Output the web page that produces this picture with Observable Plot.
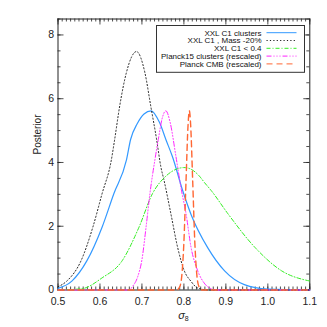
<!DOCTYPE html>
<html><head><meta charset="utf-8">
<script src="https://cdn.jsdelivr.net/npm/d3@7"></script>
<script src="https://cdn.jsdelivr.net/npm/@observablehq/plot@0.6"></script>
<style>
html,body{margin:0;padding:0;background:#fff;}
#chart{width:327px;height:327px;position:relative;}
svg{font-family:"Liberation Sans",Arial,Helvetica,sans-serif;}
</style></head><body><div id="chart"></div>
<script>
// ---- data ----
const seriesNames = ["XXL C1 clusters", "XXL C1 , Mass -20%", "XXL C1 < 0.4", "Planck15 clusters (rescaled)", "Planck CMB (rescaled)"];
const seriesColors = ["#3399ff", "#222222", "#33ee22", "#ff22ff", "#ff6633"];
const seriesDash = ["none", "1.2,2.2", "4,2,1,2", "5,2,1,2,1,2,1,2", "6,4"];

const blueX = [0.50, 0.533, 0.569, 0.605, 0.633, 0.663, 0.673, 0.689, 0.705, 0.722, 0.742, 0.757, 0.773, 0.797, 0.817, 0.857, 0.897, 0.944, 1.0, 1.1];
const blueY = [0.05, 0.28, 0.92, 1.97, 3.02, 4.07, 4.72, 5.22, 5.52, 5.62, 5.25, 4.72, 4.17, 3.12, 2.37, 1.32, 0.6, 0.17, 0.03, 0];

const blackX = [0.50, 0.521, 0.555, 0.583, 0.605, 0.627, 0.635, 0.647, 0.663, 0.687, 0.707, 0.721, 0.735, 0.745, 0.753, 0.769, 0.785, 0.801, 0.817, 0.833, 0.86, 1.1];
const blackY = [0.1, 0.28, 0.92, 1.97, 3.02, 4.07, 4.72, 5.77, 6.82, 7.48, 6.82, 5.77, 4.72, 3.87, 3.42, 2.39, 1.34, 0.6, 0.27, 0.06, 0, 0];

const greenX = [0.50, 0.557, 0.605, 0.653, 0.693, 0.725, 0.757, 0.789, 0.80, 0.815, 0.837, 0.849, 0.865, 0.905, 0.969, 1.033, 1.1];
const greenY = [0, 0.04, 0.38, 0.92, 1.97, 3.02, 3.57, 3.82, 3.84, 3.8, 3.57, 3.37, 3.12, 2.39, 1.34, 0.6, 0.28];

const magentaX = [0.50, 0.670, 0.677, 0.69, 0.70, 0.71, 0.719, 0.731, 0.739, 0.748, 0.757, 0.767, 0.781, 0.794, 0.805, 0.817, 0.833, 0.85, 0.865, 0.88, 1.1];
const magentaY = [0, 0, 0.1, 0.42, 0.95, 1.99, 3.02, 4.09, 4.72, 5.37, 5.62, 5.27, 4.19, 3.14, 2.4, 1.34, 0.6, 0.19, 0.04, 0, 0];

const orangeX = [0.50, 0.783, 0.79, 0.795, 0.80, 0.805, 0.81, 0.813, 0.816, 0.821, 0.826, 0.831, 0.836, 0.843, 1.1];
const orangeY = [0, 0, 0.1, 0.45, 1.5, 3.4, 5.2, 5.62, 5.2, 3.4, 1.5, 0.45, 0.1, 0, 0];

const seriesX = [blueX, blackX, greenX, magentaX, orangeX];
const seriesY = [blueY, blackY, greenY, magentaY, orangeY];

const xMajorTicks = [0.5, 0.6, 0.7, 0.8, 0.9, 1.0, 1.1];
const yMajorTicks = [0, 2, 4, 6, 8];

// ---- layout ----
const W = 327, H = 327;
const mL = 57.5, mR = 17.7, mT = 18.5, mB = 37.5;
const innerW = W - mL - mR, innerH = H - mT - mB;
const xMinorTicks = d3.range(50, 111).map(d => d / 100);
const yMinorTicks = d3.range(0, 18).map(d => d / 2);

const lineMarks = seriesNames.map((name, i) => {
  const rows = seriesX[i].map((x, j) => ({x, y: seriesY[i][j]}));
  return Plot.line(rows, {x: "x", y: "y", stroke: seriesColors[i], strokeWidth: i === 0 ? 1.2 : (i === 4 ? 1.4 : 1), strokeDasharray: seriesDash[i] === "none" ? null : seriesDash[i], curve: "monotone-x"});
});

const tk = "#222";
const plot = Plot.plot({
  width: W, height: H,
  marginLeft: mL, marginRight: mR, marginTop: mT, marginBottom: mB,
  style: {fontFamily: '"Liberation Sans", Arial, Helvetica, sans-serif', background: "white"},
  x: {domain: [0.5, 1.1]},
  y: {domain: [0, 8.5]},
  marks: [
    Plot.ruleX(xMinorTicks, {x: d => d, insetTop: innerH - 3, stroke: tk, strokeWidth: 0.8}),
    Plot.ruleX(xMinorTicks, {x: d => d, insetBottom: innerH - 3, stroke: tk, strokeWidth: 0.8}),
    Plot.ruleX(xMajorTicks, {x: d => d, insetTop: innerH - 6, stroke: tk, strokeWidth: 0.8}),
    Plot.ruleX(xMajorTicks, {x: d => d, insetBottom: innerH - 6, stroke: tk, strokeWidth: 0.8}),
    Plot.ruleY(yMinorTicks, {y: d => d, insetRight: innerW - 3, stroke: tk, strokeWidth: 0.8}),
    Plot.ruleY(yMinorTicks, {y: d => d, insetLeft: innerW - 3, stroke: tk, strokeWidth: 0.8}),
    Plot.ruleY(yMajorTicks, {y: d => d, insetRight: innerW - 6, stroke: tk, strokeWidth: 0.8}),
    Plot.ruleY(yMajorTicks, {y: d => d, insetLeft: innerW - 6, stroke: tk, strokeWidth: 0.8}),
    Plot.frame({stroke: tk, strokeWidth: 1}),
    Plot.axisX(xMajorTicks, {tickSize: 0, tickPadding: 8, tickFormat: d3.format(".1f"), label: null, fontSize: 10.5, fill: "#222"}),
    Plot.axisY(yMajorTicks, {tickSize: 0, tickPadding: 4, tickFormat: d => String(d), label: null, fontSize: 10.5, fill: "#222"}),
    Plot.text(["Posterior"], {text: d => d, frameAnchor: "left", dx: -20.2, rotate: -90, fontSize: 10, fill: "#222"}),
    ...lineMarks
  ]
});

const svg = d3.select(plot);
const xs = plot.scale("x");
const lab = svg.append("text")
  .attr("x", d3.mean(xs.range))
  .attr("y", H - 8.5)
  .attr("text-anchor", "middle")
  .attr("fill", "#222")
  .attr("font-size", 11);
lab.append("tspan").attr("font-style", "italic").text("σ");
lab.append("tspan").attr("font-size", 7).attr("dy", 2.5).text("8");

// legend
const lx = 156.5, ly = 25.5, lw = 148, lh = 46.8;
const lg = svg.append("g").attr("transform", `translate(${lx},${ly})`);
lg.append("rect").attr("width", lw).attr("height", lh).attr("fill", "white").attr("stroke", "#333").attr("stroke-width", 1);
seriesNames.forEach((n, i) => {
  const yy = 7.2 + i * 7.8;
  lg.append("text").attr("x", 105).attr("y", yy).attr("dy", "0.35em").attr("text-anchor", "end")
    .attr("font-size", 8).attr("fill", "#111").text(n);
  const ln = lg.append("line").attr("x1", 110).attr("x2", 140).attr("y1", yy).attr("y2", yy)
    .attr("stroke", seriesColors[i]).attr("stroke-width", 1);
  if (seriesDash[i] !== "none") ln.attr("stroke-dasharray", seriesDash[i]);
});

document.getElementById("chart").appendChild(plot);
</script>
</body></html>
